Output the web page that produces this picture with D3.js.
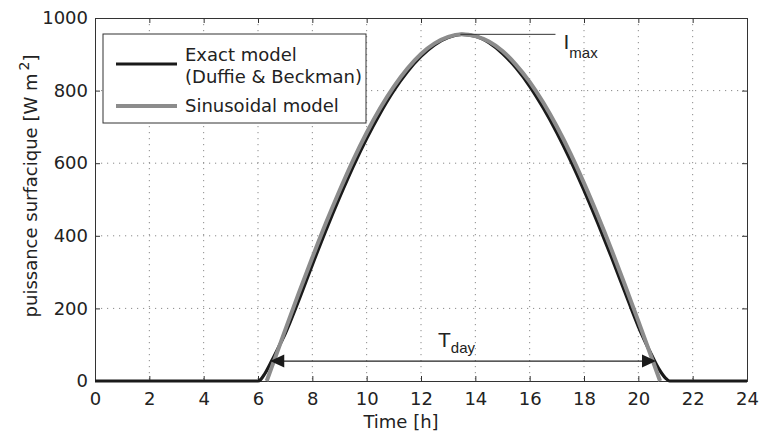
<!DOCTYPE html>
<html lang="en">
<head>
    <meta charset="UTF-8">
    <title>Solar irradiance over a day</title>
    <script src="https://d3js.org/d3.v7.min.js"></script>
    <style>
        body {
            margin: 0;
            background: white;
        }
        svg text {
            font-family: "DejaVu Sans", sans-serif;
            fill: #222;
        }
        .annot {
            font-family: "Liberation Sans", Arial, sans-serif !important;
        }
    </style>
</head>
<body>
    <div id="chart"></div>

    <script>
        // tick values
        const xTicks = [0, 2, 4, 6, 8, 10, 12, 14, 16, 18, 20, 22, 24];
        const yTicks = [0, 200, 400, 600, 800, 1000];

        // exact model (Duffie & Beckman)
        const exactHours = [0, 5.9, 6.0, 6.1, 6.25, 6.5, 6.75, 7, 7.5, 8, 8.5, 9, 9.5, 10, 10.5, 11, 11.5, 12, 12.5, 13, 13.5,
            14, 14.5, 15, 15.5, 16, 16.5, 17, 17.5, 18, 18.5, 19, 19.5, 20, 20.5, 20.75, 21, 21.15, 21.3, 24];
        const exactValues = [0, 0, 0, 4, 20, 55, 92, 130, 222, 320, 415, 505, 590, 668, 738, 800, 852, 894, 926, 946, 955,
            950, 932, 902, 862, 812, 752, 684, 608, 525, 436, 343, 246, 150, 70, 34, 8, 0, 0, 0];

        // sinusoidal model, day part only
        const sinHours = [6.32, 6.5, 7, 7.5, 8, 8.5, 9, 9.5, 10, 10.5, 11, 11.5, 12, 12.5, 13, 13.5,
            14, 14.5, 15, 15.5, 16, 16.5, 17, 17.5, 18, 18.5, 19, 19.5, 20, 20.5, 20.8];
        const sinValues = [0, 37, 140, 242, 340, 435, 524, 608, 684, 752, 811, 861, 901, 930, 948, 955,
            950, 935, 909, 871, 824, 767, 701, 627, 545, 457, 364, 266, 165, 62, 0];

        // annotations (data units)
        const imaxLine = { from: 13.45, to: 16.95, value: 955 };
        const tdayArrow = { from: 6.45, to: 20.65, value: 55 };

        const width = 762, height = 432;
        const margin = { top: 18, right: 15, bottom: 51, left: 95 };

        const svg = d3.select("#chart").append("svg")
            .attr("width", width)
            .attr("height", height);

        const x = d3.scaleLinear().domain([0, 24]).range([margin.left, width - margin.right]);
        const y = d3.scaleLinear().domain([0, 1000]).range([height - margin.bottom, margin.top]);

        const plotLeft = x(0), plotRight = x(24), plotTop = y(1000), plotBottom = y(0);

        // dotted grid
        const grid = svg.append("g")
            .attr("stroke", "#8a8a8a")
            .attr("stroke-width", 1)
            .attr("stroke-dasharray", "1.2,4.8");
        grid.selectAll(".gx")
            .data(xTicks.slice(1, -1))
            .enter().append("line")
            .attr("x1", d => x(d)).attr("x2", d => x(d))
            .attr("y1", plotTop).attr("y2", plotBottom);
        grid.selectAll(".gy")
            .data(yTicks.slice(1, -1))
            .enter().append("line")
            .attr("x1", plotLeft).attr("x2", plotRight)
            .attr("y1", d => y(d)).attr("y2", d => y(d));

        // axes, ticks pointing in
        svg.append("g")
            .attr("transform", `translate(0,${plotBottom})`)
            .call(d3.axisBottom(x).tickValues(xTicks).tickSize(-5).tickPadding(11).tickFormat(d3.format("d")))
            .call(g => g.selectAll("text").attr("font-size", 18).style("font-family", "DejaVu Sans"));
        svg.append("g")
            .attr("transform", `translate(0,${plotTop})`)
            .call(d3.axisTop(x).tickValues(xTicks).tickSize(-5).tickFormat(""));
        svg.append("g")
            .attr("transform", `translate(${plotLeft},0)`)
            .call(d3.axisLeft(y).tickValues(yTicks).tickSize(-5).tickPadding(7).tickFormat(d3.format("d")))
            .call(g => g.selectAll("text").attr("font-size", 18).style("font-family", "DejaVu Sans"));
        svg.append("g")
            .attr("transform", `translate(${plotRight},0)`)
            .call(d3.axisRight(y).tickValues(yTicks).tickSize(-5).tickFormat(""));
        svg.selectAll(".domain").attr("stroke", "#333");
        svg.selectAll(".tick line").attr("stroke", "#333");

        // curves
        const exactData = exactHours.map((h, i) => ({ h: h, v: exactValues[i] }));
        const sinData = sinHours.map((h, i) => ({ h: h, v: sinValues[i] }));
        const line = d3.line()
            .x(d => x(d.h))
            .y(d => y(d.v))
            .curve(d3.curveMonotoneX);

        svg.append("path")
            .datum(exactData)
            .attr("fill", "none")
            .attr("stroke", "#1a1a1a")
            .attr("stroke-width", 3.2)
            .attr("d", line);
        svg.append("path")
            .datum(sinData)
            .attr("fill", "none")
            .attr("stroke", "#8c8c8c")
            .attr("stroke-width", 4)
            .attr("d", line);

        // I_max annotation
        svg.append("line")
            .attr("x1", x(imaxLine.from)).attr("x2", x(imaxLine.to))
            .attr("y1", y(imaxLine.value)).attr("y2", y(imaxLine.value))
            .attr("stroke", "#333").attr("stroke-width", 1);
        const imaxText = svg.append("text")
            .attr("class", "annot")
            .attr("x", x(imaxLine.to) + 8)
            .attr("y", y(imaxLine.value) + 15)
            .attr("font-size", 21);
        imaxText.append("tspan").text("I");
        imaxText.append("tspan").attr("dy", 9).attr("font-size", 15).text("max");

        // T_day arrow
        const ay = y(tdayArrow.value);
        const ax1 = x(tdayArrow.from), ax2 = x(tdayArrow.to);
        svg.append("line")
            .attr("x1", ax1 + 10).attr("x2", ax2 - 10)
            .attr("y1", ay).attr("y2", ay)
            .attr("stroke", "#222").attr("stroke-width", 1.2);
        svg.append("path")
            .attr("d", `M${ax1},${ay} L${ax1 + 14},${ay - 6.5} L${ax1 + 14},${ay + 6.5} Z`)
            .attr("fill", "#1a1a1a");
        svg.append("path")
            .attr("d", `M${ax2},${ay} L${ax2 - 14},${ay - 6.5} L${ax2 - 14},${ay + 6.5} Z`)
            .attr("fill", "#1a1a1a");
        const tdayText = svg.append("text")
            .attr("class", "annot")
            .attr("x", 438)
            .attr("y", 347)
            .attr("font-size", 21);
        tdayText.append("tspan").text("T");
        tdayText.append("tspan").attr("dy", 6).attr("font-size", 15).text("day");

        // legend
        const legend = svg.append("g");
        legend.append("rect")
            .attr("x", 103).attr("y", 34)
            .attr("width", 263).attr("height", 89)
            .attr("fill", "white")
            .attr("stroke", "#333").attr("stroke-width", 1);
        legend.append("line")
            .attr("x1", 116).attr("x2", 177).attr("y1", 64).attr("y2", 64)
            .attr("stroke", "#1a1a1a").attr("stroke-width", 3.2);
        legend.append("line")
            .attr("x1", 116).attr("x2", 177).attr("y1", 106).attr("y2", 106)
            .attr("stroke", "#8c8c8c").attr("stroke-width", 4);
        legend.append("text").attr("x", 185).attr("y", 61).attr("font-size", 18).text("Exact model");
        legend.append("text").attr("x", 185).attr("y", 83).attr("font-size", 18).text("(Duffie & Beckman)");
        legend.append("text").attr("x", 185).attr("y", 112).attr("font-size", 18).text("Sinusoidal model");

        // axis labels
        svg.append("text")
            .attr("x", 401)
            .attr("y", 428)
            .attr("text-anchor", "middle")
            .attr("font-size", 18)
            .text("Time [h]");
        const yLabel = svg.append("text")
            .attr("transform", "translate(37,186) rotate(-90)")
            .attr("text-anchor", "middle")
            .attr("font-size", 18);
        yLabel.append("tspan").text("puissance surfacique [W m");
        yLabel.append("tspan").attr("dx", 3).attr("dy", -8).attr("font-size", 14).text("2");
        yLabel.append("tspan").attr("dy", 8).text("]");
    </script>
</body>
</html>
